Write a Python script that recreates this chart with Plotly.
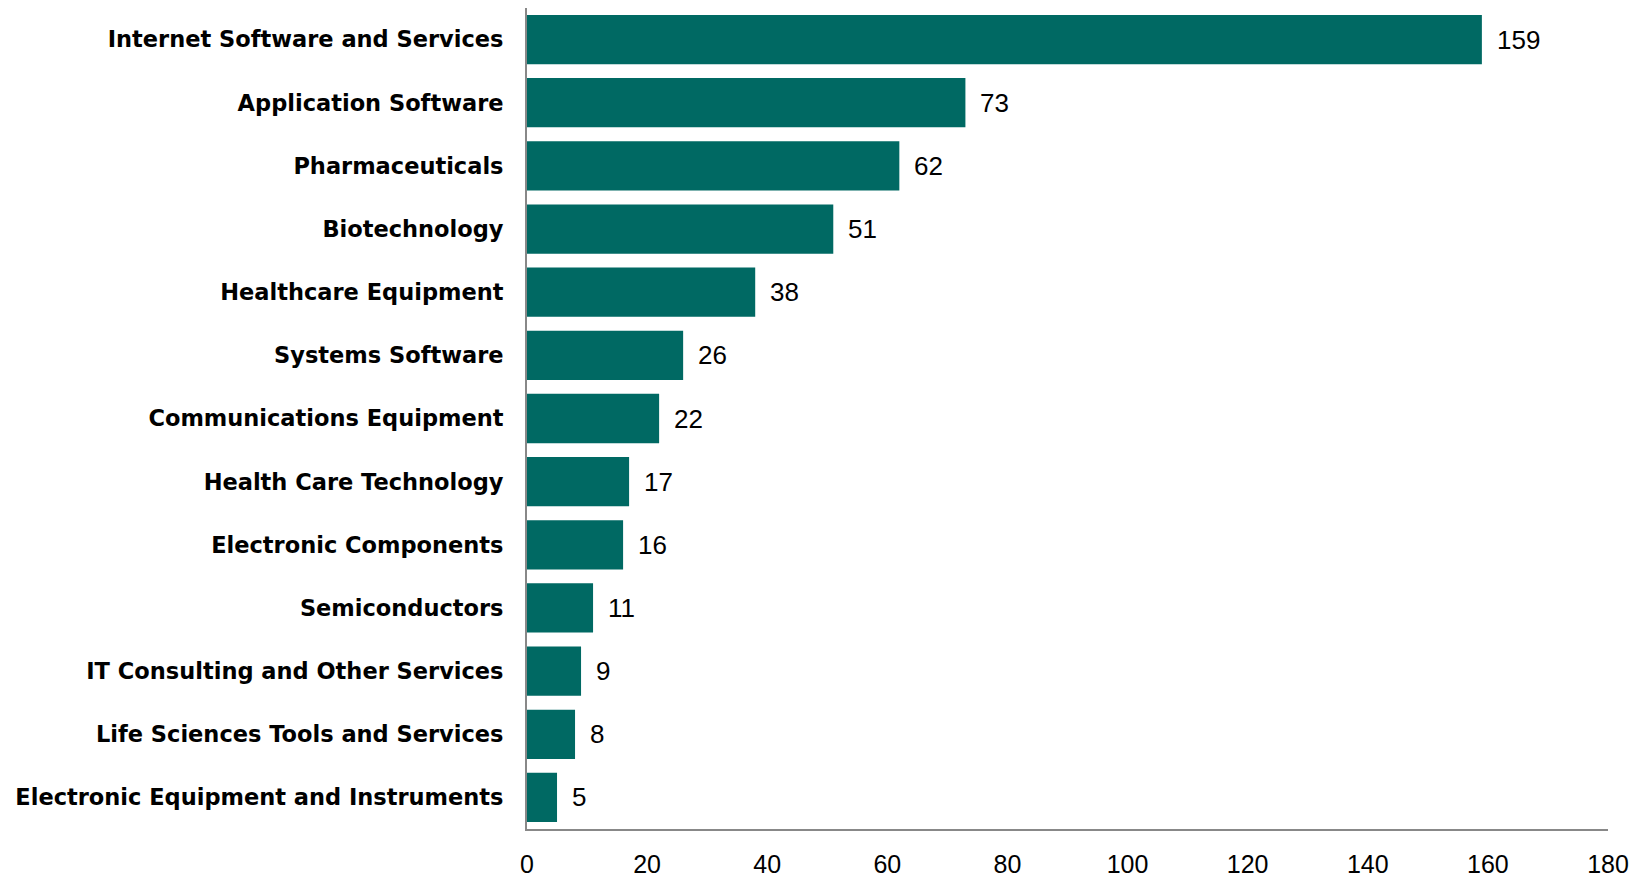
import plotly.graph_objects as go

categories = [
    "Internet Software and Services",
    "Application Software",
    "Pharmaceuticals",
    "Biotechnology",
    "Healthcare Equipment",
    "Systems Software",
    "Communications Equipment",
    "Health Care Technology",
    "Electronic Components",
    "Semiconductors",
    "IT Consulting and Other Services",
    "Life Sciences Tools and Services",
    "Electronic Equipment and Instruments",
]
values = [159, 73, 62, 51, 38, 26, 22, 17, 16, 11, 9, 8, 5]
x_ticks = [0, 20, 40, 60, 80, 100, 120, 140, 160, 180]

BAR_COLOR = "#006963"
AXIS_COLOR = "#888888"
NUM_FONT = "Liberation Sans, Arial, sans-serif"

fig = go.Figure()
fig.add_trace(go.Bar(
    x=values,
    y=categories,
    orientation="h",
    marker=dict(color=BAR_COLOR, line=dict(width=0)),
    hoverinfo="skip",
    showlegend=False,
))

for cat, val in zip(categories, values):
    fig.add_annotation(
        x=val, y=cat, text=str(val),
        xref="x", yref="y",
        xanchor="left", yanchor="middle",
        xshift=13, showarrow=False,
        font=dict(family=NUM_FONT, size=26, color="#000000"),
    )

fig.update_layout(
    width=1639, height=874,
    margin=dict(l=519, r=39, t=0, b=53, pad=0),
    plot_bgcolor="white",
    paper_bgcolor="white",
    bargap=0.22,
    xaxis=dict(
        range=[0, 180],
        tickmode="array",
        tickvals=x_ticks,
        ticktext=[str(t) for t in x_ticks],
        showgrid=False,
        zeroline=False,
        showline=True,
        linecolor=AXIS_COLOR,
        linewidth=2,
        ticks="",
        automargin=False,
        ticklabelstandoff=12,
        tickfont=dict(family=NUM_FONT, size=25, color="#000000"),
    ),
    yaxis=dict(
        categoryorder="array",
        categoryarray=categories,
        range=[12.5, -0.5],
        showgrid=False,
        zeroline=False,
        showline=True,
        linecolor=AXIS_COLOR,
        linewidth=2,
        ticks="",
        automargin=False,
        ticklabelstandoff=17,
        tickfont=dict(family="DejaVu Sans, sans-serif", size=22.5, color="#000000", weight="bold"),
    ),
)

fig.write_html("out.html")
